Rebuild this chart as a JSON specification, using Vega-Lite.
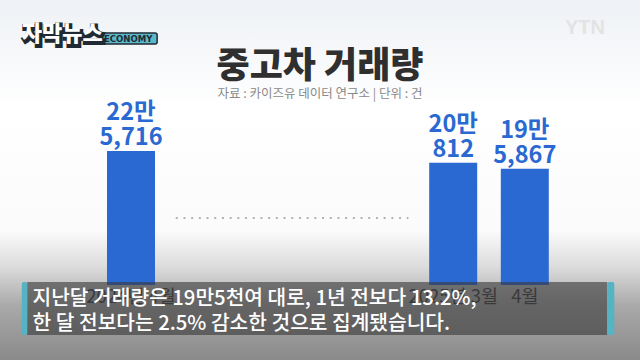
{
  "$schema": "https://vega.github.io/schema/vega-lite/v6.json",
  "width": 640,
  "height": 360,
  "autosize": {"type": "none"},
  "padding": 0,
  "background": "#ffffff",
  "config": {
    "view": {
      "stroke": null,
      "fill": {"expr": "{gradient: 'linear', x1: 0, y1: 0, x2: 0, y2: 1, stops: [{offset: 0, color: '#eef1f5'}, {offset: 0.3, color: '#ffffff'}, {offset: 0.64, color: '#fbfbfb'}, {offset: 0.74, color: '#dcdcdc'}, {offset: 0.85, color: '#a9a9a9'}, {offset: 1, color: '#8a8a8a'}]}"}
    },
    "font": "Noto Sans CJK KR",
    "text": {"font": "Noto Sans CJK KR"}
  },
  "title": {
    "text": "중고차 거래량",
    "subtitle": "자료 : 카이즈유 데이터 연구소  |  단위 : 건",
    "anchor": "middle",
    "frame": "group",
    "orient": "top",
    "offset": -101,
    "font": "Noto Sans CJK KR",
    "fontSize": 36,
    "fontWeight": 900,
    "color": "#2f2f2f",
    "subtitleFont": "Noto Sans CJK KR",
    "subtitleFontSize": 12.5,
    "subtitleColor": "#8a8a8a",
    "subtitlePadding": 2
  },
  "data": {
    "values": [
      {"month": "2024년 4월", "value": 225716, "label": ["22만", "5,716"]},
      {"month": "2025년 3월", "value": 205812, "label": ["20만", "812"]},
      {"month": "4월", "value": 195867, "label": ["19만", "5,867"]}
    ]
  },
  "layer": [
    {
      "mark": {"type": "bar", "size": 48, "color": "#2a69d1"},
      "encoding": {
        "x": {
          "field": "month",
          "type": "nominal",
          "axis": null,
          "scale": {
            "type": "band",
            "domain": ["_L0", "_L1", "_L2", "2024년 4월", "_g1", "_g2", "_g3", "_g4", "_g5", "_g6", "_g7", "_g8", "2025년 3월", "_g9", "4월", "_R1", "_R2"],
            "paddingInner": 0,
            "paddingOuter": 0.4385,
            "align": 0.1815
          }
        },
        "y": {
          "field": "value",
          "type": "quantitative",
          "axis": null,
          "scale": {"domain": [-126335, 480073], "zero": false, "nice": false}
        }
      }
    },
    {
      "mark": {"type": "text", "dy": -26, "fontSize": 23.5, "lineHeight": 25, "fontWeight": "bold", "color": "#2a69d1", "baseline": "bottom"},
      "encoding": {
        "x": {"field": "month", "type": "nominal"},
        "y": {"field": "value", "type": "quantitative"},
        "text": {"field": "label"}
      }
    },
    {
      "mark": {"type": "text", "dy": 3, "fontSize": 18.5, "color": "#3a3a3a", "baseline": "top"},
      "encoding": {
        "x": {"field": "month", "type": "nominal"},
        "y": {"datum": 0, "type": "quantitative"},
        "text": {"field": "month"}
      }
    },
    {
      "data": {"values": [{}]},
      "mark": {"type": "rule", "strokeDash": [2, 5.7], "strokeWidth": 2, "color": "#aeb3ba"},
      "encoding": {
        "x": {"datum": "_g1", "type": "nominal", "bandPosition": 0.75},
        "x2": {"datum": "_g8", "bandPosition": 0.25},
        "y": {"datum": 112858, "type": "quantitative"}
      }
    },
    {
      "data": {"values": [{}]},
      "mark": {"type": "rect", "color": "#3a3a3c", "opacity": 0.62},
      "encoding": {
        "x": {"datum": "_L0", "type": "nominal", "bandPosition": 0.6},
        "x2": {"datum": "_R2", "bandPosition": 0.8},
        "y": {"datum": 5053, "type": "quantitative"},
        "y2": {"datum": -84222}
      }
    },
    {
      "data": {"values": [{}]},
      "mark": {"type": "rect", "color": "#55b3c3", "cornerRadius": 2},
      "encoding": {
        "x": {"datum": "_L0", "type": "nominal", "bandPosition": 0.45},
        "x2": {"datum": "_L0", "bandPosition": 0.6},
        "y": {"datum": 5053, "type": "quantitative"},
        "y2": {"datum": -84222}
      }
    },
    {
      "data": {"values": [{}]},
      "mark": {"type": "rect", "color": "#55b3c3", "cornerRadius": 2},
      "encoding": {
        "x": {"datum": "_R2", "type": "nominal", "bandPosition": 0.8},
        "x2": {"datum": "_R2", "bandPosition": 1},
        "y": {"datum": 5053, "type": "quantitative"},
        "y2": {"datum": -84222}
      }
    },
    {
      "data": {"values": [{"caption": ["지난달 거래량은 19만5천여 대로, 1년 전보다 13.2%,", "한 달 전보다는 2.5% 감소한 것으로 집계됐습니다."]}]},
      "mark": {"type": "text", "align": "left", "baseline": "middle", "fontSize": 20.3, "lineHeight": 25, "color": "#ffffff", "fontWeight": 500},
      "encoding": {
        "x": {"datum": "_L0", "type": "nominal", "bandPosition": 0.75},
        "y": {"datum": -22746, "type": "quantitative"},
        "text": {"field": "caption"}
      }
    },
    {
      "data": {"values": [{}]},
      "mark": {"type": "rect", "color": "#5cb8c8", "stroke": "#1f2a33", "strokeWidth": 1.5, "cornerRadius": 2},
      "encoding": {
        "x": {"datum": "_L2", "type": "nominal", "bandPosition": 0.63},
        "x2": {"datum": "_g1", "bandPosition": 0.23},
        "y": {"datum": 424500, "type": "quantitative"},
        "y2": {"datum": 405900}
      }
    },
    {
      "data": {"values": [{}]},
      "mark": {"type": "text", "text": "ECONOMY", "fontSize": 9.5, "fontWeight": "bold", "color": "#1f2a33", "baseline": "middle", "align": "center", "font": "DejaVu Sans Condensed"},
      "encoding": {
        "x": {"datum": "_L2", "type": "nominal", "bandPosition": 1.42},
        "y": {"datum": 415200, "type": "quantitative"}
      }
    },
    {
      "data": {"values": [{}]},
      "mark": {"type": "text", "text": "자막뉴스", "fontSize": 22, "fontWeight": 900, "color": "#1f2a33", "stroke": "#1f2a33", "strokeWidth": 4, "baseline": "middle", "align": "left", "dx": 1.5, "dy": 1.5},
      "encoding": {
        "x": {"datum": "_L0", "type": "nominal", "bandPosition": 0.45},
        "y": {"datum": 422800, "type": "quantitative"}
      }
    },
    {
      "data": {"values": [{}]},
      "mark": {"type": "text", "text": "자막뉴스", "fontSize": 22, "fontWeight": 900, "color": "#ffffff", "baseline": "middle", "align": "left"},
      "encoding": {
        "x": {"datum": "_L0", "type": "nominal", "bandPosition": 0.45},
        "y": {"datum": 422800, "type": "quantitative"}
      }
    },
    {
      "data": {"values": [{}]},
      "mark": {"type": "text", "text": "YTN", "fontSize": 20, "fontWeight": "bold", "color": "#e3e3e3", "baseline": "middle", "align": "left", "font": "Liberation Sans"},
      "encoding": {
        "x": {"datum": "_R1", "type": "nominal", "bandPosition": 0.62},
        "y": {"datum": 432900, "type": "quantitative"}
      }
    }
  ]
}
